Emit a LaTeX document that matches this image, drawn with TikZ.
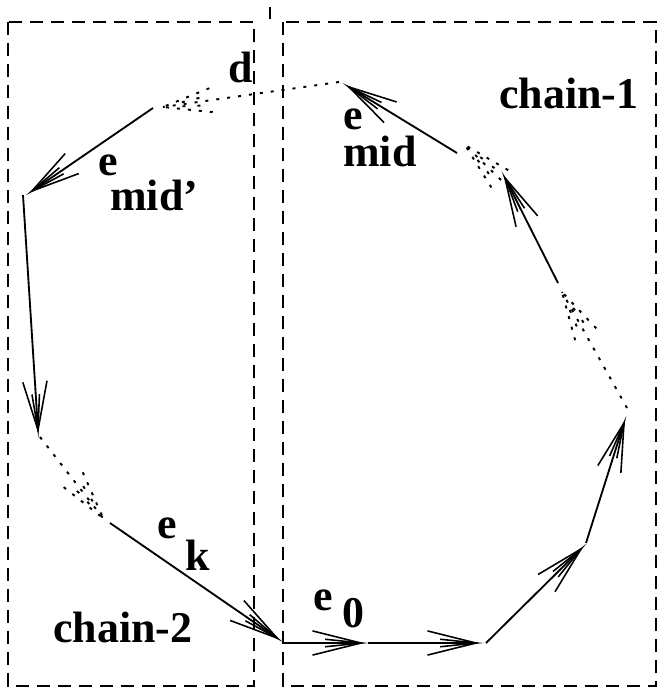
\documentclass[tikz,border=0pt]{standalone}
\usepackage{fontspec}
\setmainfont{Liberation Serif}
\usetikzlibrary{calc}
\newcommand\barbset[3][]{%
  \draw[headline,#1] ($(#2)!1cm!14:(#3)$) -- (#2) -- ($(#2)!1cm!-14:(#3)$);
  \draw[headline,#1] ($(#2)!0.72cm!6:(#3)$) -- (#2) -- ($(#2)!0.72cm!-6:(#3)$);
}
\newcommand\dotbarbset[2]{%
  \draw[dotline] ($(#1)!1cm!14:(#2)$) -- (#1);
  \draw[dotline] ($(#1)!1cm!-14:(#2)$) -- (#1);
  \draw[dotline,dash pattern=on 0.06cm off 0.24cm] ($(#1)!0.75cm!6:(#2)$) -- ($(#1)!0.2cm!6:(#2)$);
  \draw[dotline,dash pattern=on 0.06cm off 0.24cm] ($(#1)!0.75cm!-6:(#2)$) -- ($(#1)!0.2cm!-6:(#2)$);
}
\begin{document}
\begin{tikzpicture}[x=0.02cm,y=-0.02cm,
  boxline/.style={line width=1.3pt,dash pattern=on 0.27cm off 0.15cm},
  solidline/.style={line width=1.05pt},
  dotline/.style={line width=1.1pt,dash pattern=on 0.06cm off 0.16cm},
  headline/.style={line width=0.9pt,line join=miter},
  lbl/.style={anchor=base west,inner sep=0pt,font=\fontsize{25pt}{30pt}\selectfont\bfseries}]
\useasboundingbox (0,0) rectangle (662,690);
\fill[white] (0,0) rectangle (662,690);
% boxes
\draw[boxline] (8,22) rectangle (254,686);
\draw[boxline] (283,22) rectangle (656,686);
\draw[line width=1.3pt] (270,7) -- (270,19);
% vertices
\coordinate (S1) at (283,643); \coordinate (T1) at (361,643);
\coordinate (S2) at (368,643); \coordinate (T2) at (476,643);
\coordinate (S3) at (486,643); \coordinate (T3) at (581,549);
\coordinate (S4) at (586,543); \coordinate (T4) at (624,423);
\coordinate (S5) at (627,408); \coordinate (T5) at (562,292);
\coordinate (S6) at (558,283); \coordinate (T6) at (505,178);
\coordinate (S7) at (501,180); \coordinate (T7) at (465,145);
\coordinate (S8) at (457,153); \coordinate (T8) at (349,87);
\coordinate (S9) at (339,82);  \coordinate (T9) at (163,107);
\coordinate (S10) at (153,108); \coordinate (T10) at (32,191);
\coordinate (S11) at (23,195); \coordinate (T11) at (38,430);
\coordinate (S12) at (40,437); \coordinate (T12) at (103,518);
\coordinate (S13) at (110,523); \coordinate (T13) at (277,638);
% solid segments
\foreach \i in {1,2,3,4,6,8,10,11,13}{
  \draw[solidline] (S\i) -- (T\i);
  \barbset{T\i}{S\i}
}
% dotted segments
\foreach \i in {5,7,9,12}{
  \draw[dotline] (S\i) -- (T\i);
  \dotbarbset{T\i}{S\i}
}
% labels
\node[lbl] (lc1) at (499,108) {chain-1};
\node[lbl] (lc2) at (53,642) {chain-2};
\node[lbl] (ld) at (228,82) {d};
\node[lbl] (lme) at (343,166) {\shortstack[l]{e\\mid}};
\node[lbl] (lpe) at (98,175) {e};
\node[lbl] (lpm) at (110,210) {mid'};
\node[lbl] (lke) at (157,538) {e};
\node[lbl] (lkk) at (185,570) {k};
\node[lbl] (l0e) at (313,610) {e};
\node[lbl] (l00) at (342,627) {0};
\end{tikzpicture}
\end{document}
